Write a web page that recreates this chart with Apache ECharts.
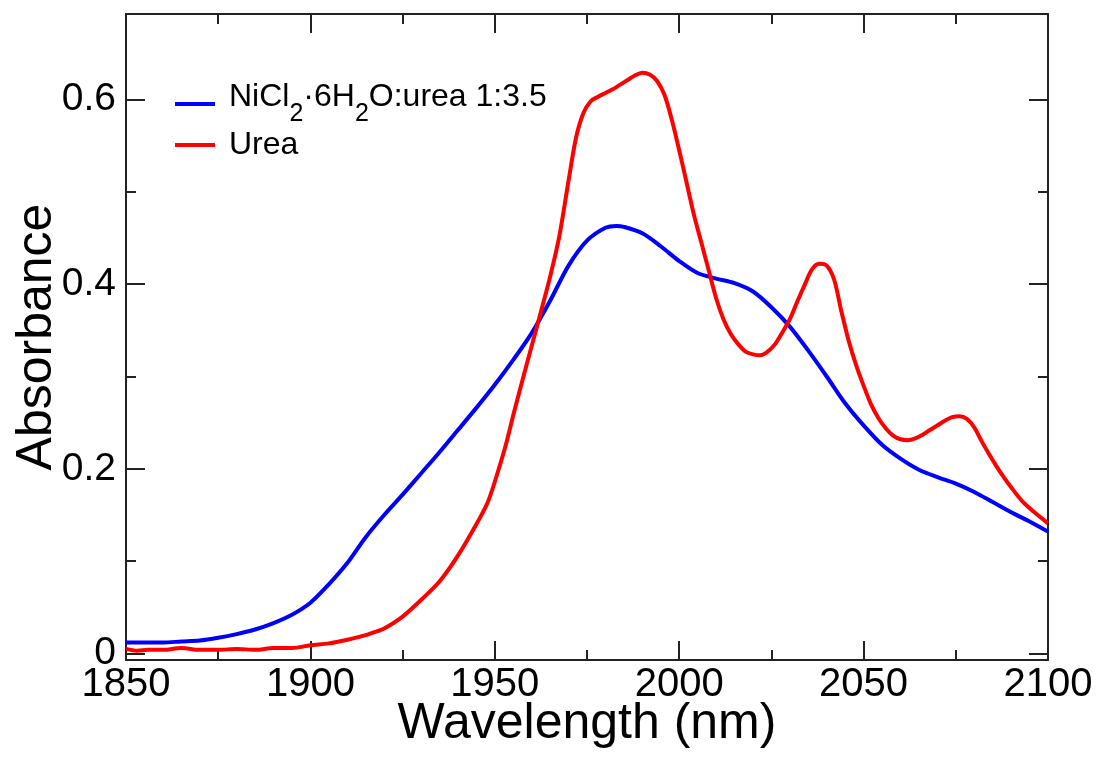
<!DOCTYPE html>
<html>
<head>
<meta charset="utf-8">
<script src="https://cdn.jsdelivr.net/npm/echarts@6/dist/echarts.min.js"></script>
<style>
  html, body { margin: 0; padding: 0; background: #fff; }
  #chart { width: 1099px; height: 758px; }
</style>
</head>
<body>
<div id="chart"></div>
<script>
// series names (legend renders the subscripts)
const seriesNames = ['NiCl2·6H2O:urea 1:3.5', 'Urea'];

// NiCl2·6H2O:urea 1:3.5 (blue)
const blueX = [1850, 1855, 1860, 1865, 1870, 1875, 1880, 1885, 1890, 1895,
  1900, 1905, 1910, 1915, 1920, 1925, 1930, 1935, 1940, 1945,
  1950, 1955, 1960, 1965, 1970, 1975, 1980, 1983, 1985, 1990,
  1995, 2000, 2005, 2010, 2015, 2020, 2025, 2030, 2035, 2040,
  2045, 2050, 2055, 2060, 2065, 2070, 2075, 2080, 2085, 2090,
  2095, 2100];
const blueY = [0.012, 0.012, 0.012, 0.013, 0.014, 0.017, 0.021, 0.026, 0.033, 0.042,
  0.055, 0.075, 0.098, 0.126, 0.150, 0.172, 0.195, 0.218, 0.242, 0.266,
  0.291, 0.318, 0.347, 0.382, 0.420, 0.447, 0.461, 0.463, 0.462, 0.455,
  0.441, 0.425, 0.412, 0.406, 0.401, 0.392, 0.375, 0.354, 0.328, 0.300,
  0.271, 0.247, 0.226, 0.211, 0.199, 0.191, 0.184, 0.175, 0.164, 0.153,
  0.143, 0.132];

// Urea (red)
const redX = [1850, 1853, 1856, 1860, 1865, 1870, 1875, 1880, 1885, 1890,
  1895, 1900, 1905, 1910, 1915, 1918, 1920, 1925, 1930, 1935,
  1940, 1945, 1948, 1950, 1953, 1955, 1957.5, 1960, 1962.5, 1965,
  1967.5, 1970, 1972, 1974, 1976, 1978, 1980, 1982, 1984, 1986,
  1988, 1990, 1992, 1994, 1996, 1998, 2000, 2002, 2004, 2006,
  2008, 2010, 2012, 2014, 2016, 2018, 2020, 2022, 2024, 2026,
  2028, 2030, 2032, 2034, 2036, 2038, 2040, 2042, 2044, 2046,
  2048, 2050, 2052, 2054, 2056, 2058, 2060, 2062, 2064, 2066,
  2068, 2070, 2072, 2074, 2076, 2078, 2080, 2082, 2084, 2086,
  2088, 2090, 2093, 2096, 2100];
const redY = [0.005, 0.003, 0.004, 0.004, 0.006, 0.004, 0.004, 0.005, 0.004, 0.006,
  0.006, 0.009, 0.011, 0.015, 0.020, 0.024, 0.027, 0.040, 0.058, 0.078,
  0.106, 0.140, 0.163, 0.186, 0.226, 0.258, 0.296, 0.333, 0.370, 0.408,
  0.452, 0.512, 0.558, 0.585, 0.598, 0.603, 0.607, 0.611, 0.616, 0.621,
  0.626, 0.629, 0.627, 0.620, 0.605, 0.578, 0.545, 0.510, 0.475, 0.445,
  0.415, 0.385, 0.362, 0.346, 0.335, 0.327, 0.324, 0.323, 0.327, 0.335,
  0.348, 0.362, 0.381, 0.399, 0.416, 0.422, 0.420, 0.405, 0.370, 0.338,
  0.312, 0.290, 0.270, 0.255, 0.244, 0.236, 0.232, 0.231, 0.233, 0.237,
  0.242, 0.247, 0.252, 0.256, 0.257, 0.254, 0.245, 0.230, 0.216, 0.203,
  0.191, 0.180, 0.165, 0.154, 0.141];

// tick values
const yMajor = [0, 0.2, 0.4, 0.6];
const yMinor = [0.1, 0.3, 0.5];

const font = '"Liberation Sans", Arial, Helvetica, sans-serif';
const frame = '#222';

function pairs(xs, ys) {
  return xs.map((x, i) => [x, ys[i]]);
}

const chart = echarts.init(document.getElementById('chart'));

function xAxisCfg(pos, showLabel) {
  return {
    type: 'value',
    position: pos,
    min: 1850,
    max: 2100,
    interval: 50,
    name: showLabel ? 'Wavelength (nm)' : '',
    nameLocation: 'middle',
    nameGap: 39,
    nameMoveOverlap: false,
    nameTextStyle: { fontSize: 50, fontFamily: font, color: '#000' },
    axisLine: { show: true, onZero: false, lineStyle: { color: frame, width: 2 } },
    axisTick: { show: true, inside: true, length: 19, lineStyle: { color: frame, width: 2 } },
    minorTick: { show: true, splitNumber: 2, length: 10, lineStyle: { color: frame, width: 2 } },
    axisLabel: {
      show: showLabel, margin: 5, fontSize: 40, fontFamily: font, color: '#000',
      showMinLabel: true, showMaxLabel: true,
      formatter: v => String(v)
    },
    splitLine: { show: false },
    minorSplitLine: { show: false }
  };
}

function yAxisCfg(pos, values, len, main, label) {
  return {
    type: 'value',
    position: pos,
    min: -0.007,
    max: 0.6925,
    name: label ? 'Absorbance' : '',
    nameLocation: 'middle',
    nameRotate: 90,
    nameGap: 64,
    nameMoveOverlap: false,
    nameTextStyle: { fontSize: 50, fontFamily: font, color: '#000' },
    axisLine: { show: main, onZero: false, lineStyle: { color: frame, width: 2 } },
    axisTick: {
      show: true, inside: true, length: len, customValues: values,
      lineStyle: { color: frame, width: 2 }
    },
    axisLabel: {
      show: label, margin: 10, fontSize: 39, fontFamily: font, color: '#000',
      customValues: values,
      formatter: v => String(Math.round(v * 10) / 10)
    },
    splitLine: { show: false }
  };
}

chart.setOption({
  animation: false,
  backgroundColor: '#fff',
  grid: {
    left: 126, right: 51, top: 14, bottom: 98,
    containLabel: false, outerBoundsMode: 'none'
  },
  legend: {
    orient: 'vertical',
    left: 170,
    top: 76,
    icon: 'rect',
    itemWidth: 40,
    itemHeight: 4,
    itemGap: 2,
    data: seriesNames,
    textStyle: {
      fontSize: 32, fontFamily: font, color: '#000', padding: [0, 0, 0, 9],
      rich: {
        t: { fontSize: 32, fontFamily: font, color: '#000', verticalAlign: 'top' },
        s: { fontSize: 25, lineHeight: 46, fontFamily: font, color: '#000', verticalAlign: 'bottom' }
      }
    },
    formatter: name => name === seriesNames[0]
      ? '{t|NiCl}{s|2}{t|·6H}{s|2}{t|O:urea 1:3.5}'
      : name
  },
  xAxis: [xAxisCfg('bottom', true), xAxisCfg('top', false)],
  yAxis: [
    yAxisCfg('left', yMajor, 19, true, true),
    yAxisCfg('left', yMinor, 10, false, false),
    yAxisCfg('right', yMajor, 19, true, false),
    yAxisCfg('right', yMinor, 10, false, false)
  ],
  series: [
    {
      name: seriesNames[0],
      type: 'line',
      data: pairs(blueX, blueY),
      showSymbol: false,
      symbol: 'none',
      smooth: 0.3,
      lineStyle: { color: '#0000ff', width: 4 },
      itemStyle: { color: '#0000ff' }
    },
    {
      name: seriesNames[1],
      type: 'line',
      data: pairs(redX, redY),
      showSymbol: false,
      symbol: 'none',
      smooth: 0.3,
      lineStyle: { color: '#ff0000', width: 4 },
      itemStyle: { color: '#ff0000' }
    }
  ]
});
</script>
</body>
</html>
